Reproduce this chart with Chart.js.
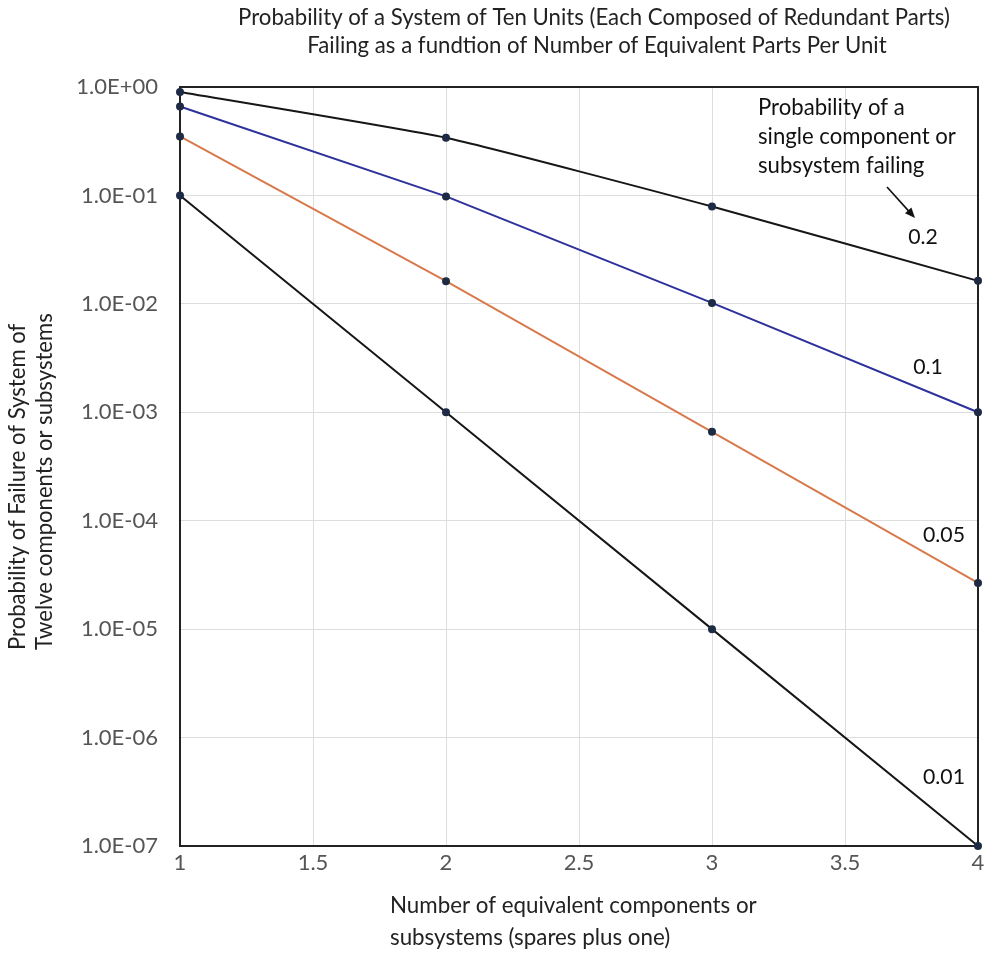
<!DOCTYPE html>
<html>
<head>
<meta charset="utf-8">
<script src="https://cdn.jsdelivr.net/npm/chart.js@4/dist/chart.umd.min.js"></script>
<style>
html,body{margin:0;padding:0;background:#fff;}
#wrap{width:1000px;height:959px;position:relative;}
</style>
</head>
<body>
<div id="wrap"><canvas id="c" width="1000" height="959"></canvas></div>
<script>
// ---- data ----
const sparesX = [1, 2, 3, 4];
const fail_p020 = [0.90, 0.34, 0.079, 0.0163];
const fail_p010 = [0.66, 0.098, 0.0102, 0.00100];
const fail_p005 = [0.35, 0.0162, 0.00066, 0.0000267];
const fail_p001 = [0.1, 0.001, 0.00001, 0.0000001];
const seriesLabels = ["0.2", "0.1", "0.05", "0.01"];
const yTickValues = [1, 1e-1, 1e-2, 1e-3, 1e-4, 1e-5, 1e-6, 1e-7];
const xTickValues = [1, 1.5, 2, 2.5, 3, 3.5, 4];
const titleLines = ["Probability of a System of Ten Units (Each Composed of Redundant Parts)",
                    "Failing as a fundtion of Number of Equivalent Parts Per Unit"];
const yTitleLines = ["Probability of Failure of System of", "Twelve components or subsystems"];
const xTitleLines = ["Number of equivalent components or", "subsystems (spares plus one)"];
const noteLines = ["Probability of a", "single component or", "subsystem failing"];

const FONT = "Lato, 'Open Sans', sans-serif";

function pts(arr){ return sparesX.map((x,i)=>({x:x, y:arr[i]})); }
function fmtExp(v){
  const e = Math.round(Math.log10(v));
  const s = e < 0 ? "-" : "+";
  const a = Math.abs(e);
  return "1.0E" + s + (a < 10 ? "0" + a : "" + a);
}

const dotColor = "#1e2b45";
function ds(label, arr, color, tension){
  return {
    label: label, data: pts(arr), borderColor: color, backgroundColor: dotColor,
    pointBackgroundColor: dotColor, pointBorderColor: dotColor,
    pointRadius: 3, pointHoverRadius: 3, borderWidth: 2, tension: tension || 0, clip: false
  };
}

// font size that makes `text` span `width` px
function fitSize(ctx, text, width){
  ctx.font = "20px " + FONT;
  return 20 * width / ctx.measureText(text).width;
}

const deco = {
  id: 'deco',
  beforeDatasetsDraw(chart){
    const {ctx, chartArea:a} = chart;
    ctx.save();
    ctx.strokeStyle = "#222";
    ctx.lineWidth = 2;
    ctx.strokeRect(a.left, a.top, a.right - a.left, a.bottom - a.top);
    ctx.restore();
  },
  afterDatasetsDraw(chart){
    const {ctx} = chart;
    ctx.save();
    ctx.fillStyle = "#222";
    ctx.textBaseline = "middle";
    // title
    let fs = fitSize(ctx, titleLines[0], 712);
    ctx.font = fs + "px " + FONT;
    ctx.textAlign = "center";
    ctx.fillText(titleLines[0], 594, 18);
    ctx.fillText(titleLines[1], 597, 46);
    // x title
    fs = fitSize(ctx, xTitleLines[0], 367);
    ctx.font = fs + "px " + FONT;
    ctx.textAlign = "left";
    ctx.fillText(xTitleLines[0], 390, 906);
    ctx.fillText(xTitleLines[1], 390, 938);
    // y title
    fs = fitSize(ctx, yTitleLines[1], 337);
    ctx.font = fs + "px " + FONT;
    ctx.save();
    ctx.translate(18, 650);
    ctx.rotate(-Math.PI/2);
    ctx.textAlign = "left";
    ctx.fillText(yTitleLines[0], 0, 0);
    ctx.fillText(yTitleLines[1], 0, 27);
    ctx.restore();
    // note
    fs = fitSize(ctx, noteLines[1], 198);
    ctx.font = fs + "px " + FONT;
    ctx.fillStyle = "#111";
    ctx.textAlign = "left";
    ctx.fillText(noteLines[0], 758, 108);
    ctx.fillText(noteLines[1], 758, 137);
    ctx.fillText(noteLines[2], 758, 166);
    // arrow
    ctx.strokeStyle = "#111"; ctx.lineWidth = 1.6;
    const x0 = 887, y0 = 187, x1 = 915, y1 = 218;
    ctx.beginPath(); ctx.moveTo(x0, y0); ctx.lineTo(x1 - 4, y1 - 4.4); ctx.stroke();
    const ang = Math.atan2(y1 - y0, x1 - x0);
    ctx.beginPath();
    ctx.moveTo(x1, y1);
    ctx.lineTo(x1 - 11*Math.cos(ang - 0.4), y1 - 11*Math.sin(ang - 0.4));
    ctx.lineTo(x1 - 11*Math.cos(ang + 0.4), y1 - 11*Math.sin(ang + 0.4));
    ctx.closePath(); ctx.fill();
    // series labels
    fs = fitSize(ctx, seriesLabels[2], 42);
    ctx.font = fs + "px " + FONT;
    ctx.textAlign = "center";
    ctx.fillText(seriesLabels[0], 923, 237);
    ctx.fillText(seriesLabels[1], 928, 367);
    ctx.fillText(seriesLabels[2], 944, 535);
    ctx.fillText(seriesLabels[3], 944, 777);
    ctx.restore();
  }
};

new Chart(document.getElementById('c'), {
  type: 'line',
  data: {
    datasets: [
      ds(seriesLabels[0], fail_p020, "#161616", 0.15),
      ds(seriesLabels[1], fail_p010, "#2d319b"),
      ds(seriesLabels[2], fail_p005, "#d8794c"),
      ds(seriesLabels[3], fail_p001, "#161616")
    ]
  },
  options: {
    responsive: false,
    animation: false,
    events: [],
    layout: { padding: { left: 0, top: 87, right: 22, bottom: 0 } },
    plugins: { legend: { display: false }, tooltip: { enabled: false } },
    scales: {
      x: {
        type: 'linear', min: 1, max: 4,
        afterBuildTicks(s){ s.ticks = xTickValues.map(v => ({value: v})); },
        afterFit(s){ s.height = 113; },
        grid: { color: "#dddddd", lineWidth: 1, drawTicks: false },
        border: { display: false },
        ticks: { color: "#555", font: { family: FONT, size: 22 }, padding: 4,
                 callback: v => String(v), maxRotation: 0 }
      },
      y: {
        type: 'logarithmic', min: 1e-7, max: 1,
        afterBuildTicks(s){ s.ticks = yTickValues.map(v => ({value: v})); },
        afterFit(s){ s.width = 180; },
        grid: { color: "#dddddd", lineWidth: 1, drawTicks: false },
        border: { display: false },
        ticks: { color: "#555", font: { family: FONT, size: 22 }, padding: 22,
                 callback: v => fmtExp(v) }
      }
    }
  },
  plugins: [deco]
});
</script>
</body>
</html>
